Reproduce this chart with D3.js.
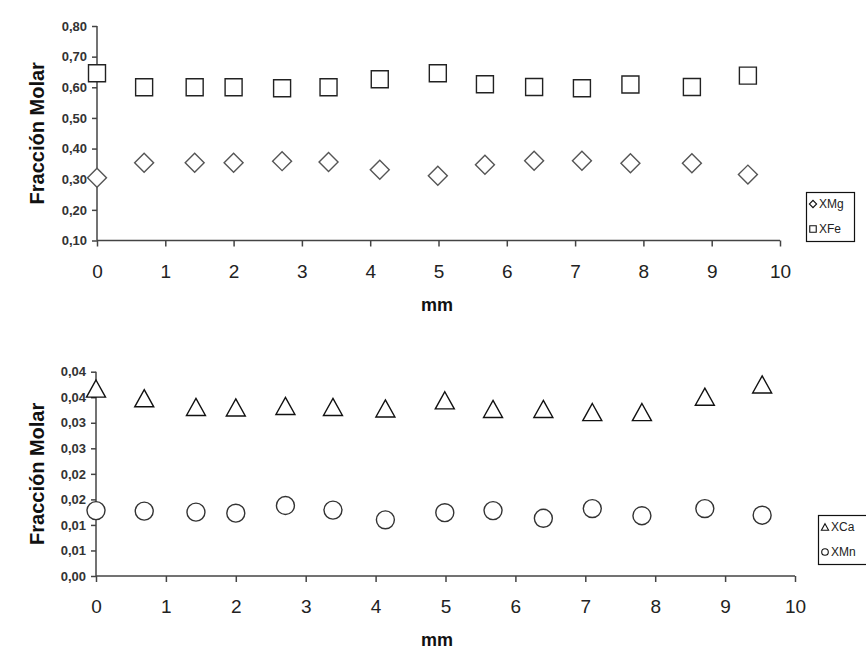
<!DOCTYPE html>
<html>
<head>
<meta charset="utf-8">
<script src="https://cdn.jsdelivr.net/npm/d3@7"></script>
<style>
  body { margin: 0; background: #fff; }
  svg { display: block; font-family: Arial, "Liberation Sans", sans-serif; }
</style>
</head>
<body>
<div id="chart"></div>
<script>
// distance along the sample (mm), shared by both panels
const distances = [0, 0.69, 1.43, 2.0, 2.71, 3.39, 4.14, 4.99, 5.68, 6.40, 7.10, 7.81, 8.71, 9.53];

// top panel
const xMg = [0.305, 0.354, 0.354, 0.354, 0.359, 0.356, 0.331, 0.311, 0.347, 0.360, 0.360, 0.352, 0.352, 0.315];
const xFe = [0.646, 0.600, 0.600, 0.600, 0.597, 0.600, 0.626, 0.646, 0.610, 0.601, 0.597, 0.609, 0.601, 0.638];

// bottom panel
const xCa = [0.0367, 0.0348, 0.0331, 0.0330, 0.0333, 0.0331, 0.0328, 0.0344, 0.0327, 0.0327, 0.0321, 0.0321, 0.0351, 0.0375];
const xMn = [0.0128, 0.0127, 0.0125, 0.0123, 0.0138, 0.0129, 0.0110, 0.0124, 0.0128, 0.0113, 0.0132, 0.0118, 0.0132, 0.0119];

const xTicks = [0, 1, 2, 3, 4, 5, 6, 7, 8, 9, 10];
const topTicks = [0.1, 0.2, 0.3, 0.4, 0.5, 0.6, 0.7, 0.8];
const topTickLabels = ["0,10", "0,20", "0,30", "0,40", "0,50", "0,60", "0,70", "0,80"];
const bottomTicks = [0, 0.005, 0.01, 0.015, 0.02, 0.025, 0.03, 0.035, 0.04];
const bottomTickLabels = ["0,00", "0,01", "0,01", "0,02", "0,02", "0,03", "0,03", "0,04", "0,04"];

const svg = d3.select("#chart")
    .append("svg")
    .attr("width", 866)
    .attr("height", 653);

// triangle whose bounding box is centred on the point (Excel style)
const bboxTriangle = {
    draw(ctx, size) {
        const s = Math.sqrt(size);
        const h = s * 0.9;
        ctx.moveTo(0, -h / 2);
        ctx.lineTo(s / 2, h / 2);
        ctx.lineTo(-s / 2, h / 2);
        ctx.closePath();
    }
};

// type, plot size, legend size, rotation, stroke
const markers = {
    square:   { type: d3.symbolSquare, size: 289, small: 42, rotate: 0,  stroke: "#222" },
    diamond:  { type: d3.symbolSquare, size: 180, small: 26, rotate: 45, stroke: "#555" },
    triangle: { type: bboxTriangle,    size: 361, small: 52, rotate: 0,  stroke: "#111" },
    circle:   { type: d3.symbolCircle, size: 254, small: 34, rotate: 0,  stroke: "#333" }
};

function drawPanel(opts) {
    const x = d3.scaleLinear().domain([0, 10]).range([opts.x0, opts.x1]);
    const y = d3.scaleLinear().domain(opts.yDomain).range([opts.y0, opts.y1]);

    const g = svg.append("g");

    // x axis
    const xAxis = g.append("g")
        .attr("transform", `translate(0,${opts.y0})`)
        .call(d3.axisBottom(x).tickValues(xTicks).tickSize(6).tickFormat(d3.format("d")));
    xAxis.select(".domain").attr("stroke", "#444").attr("stroke-width", 1.5).attr("d", `M${opts.x0},0H${opts.x1}`);
    xAxis.selectAll(".tick line").attr("stroke", "#444").attr("stroke-width", 1.5);
    xAxis.selectAll(".tick text")
        .attr("y", 37)
        .attr("dy", 0)
        .style("font-size", "19px")
        .attr("fill", "#222");

    // y axis
    const yAxis = g.append("g")
        .attr("transform", `translate(${opts.x0},0)`)
        .call(d3.axisLeft(y).tickValues(opts.yTicks).tickSize(5).tickPadding(5)
            .tickFormat((d, i) => opts.yLabels[i]));
    yAxis.select(".domain").attr("stroke", "#444").attr("stroke-width", 1.5).attr("d", `M0,${opts.y0}V${opts.y1}`);
    yAxis.selectAll(".tick line").attr("stroke", "#444").attr("stroke-width", 1.5);
    yAxis.selectAll(".tick text")
        .style("font-size", "13px")
        .style("font-weight", "bold")
        .attr("fill", "#333");

    // axis titles
    g.append("text")
        .attr("transform", `translate(44,${(opts.y0 + opts.y1) / 2}) rotate(-90)`)
        .attr("text-anchor", "middle")
        .style("font-size", "20px")
        .style("font-weight", "bold")
        .attr("fill", "#111")
        .text("Fracción Molar");

    g.append("text")
        .attr("x", 437)
        .attr("y", opts.titleY)
        .attr("text-anchor", "middle")
        .style("font-size", "18px")
        .style("font-weight", "bold")
        .attr("fill", "#111")
        .text("mm");

    // series
    opts.series.forEach(s => {
        const m = markers[s.marker];
        g.selectAll(null)
            .data(s.values)
            .enter()
            .append("path")
            .attr("d", d3.symbol(m.type, m.size)())
            .attr("transform", (v, i) => `translate(${x(distances[i])},${y(v)}) rotate(${m.rotate})`)
            .attr("fill", "#fff")
            .attr("stroke", m.stroke)
            .attr("stroke-width", 1.4);
    });

    // legend
    const lg = g.append("g").attr("transform", `translate(${opts.legend.x},${opts.legend.y})`);
    lg.append("rect")
        .attr("x", 0.5).attr("y", 0.5)
        .attr("width", opts.legend.w).attr("height", 49)
        .attr("fill", "#fff")
        .attr("stroke", "#111")
        .attr("stroke-width", 1.2);
    opts.legend.items.forEach((it, i) => {
        const m = markers[it.marker];
        const cy = 12 + i * 25;
        lg.append("path")
            .attr("d", d3.symbol(m.type, m.small)())
            .attr("transform", `translate(7,${cy}) rotate(${m.rotate})`)
            .attr("fill", "#fff")
            .attr("stroke", "#111")
            .attr("stroke-width", 1.1);
        lg.append("text")
            .attr("x", 13)
            .attr("y", cy + 4)
            .style("font-size", "12px")
            .attr("fill", "#222")
            .text(it.label);
    });
}

drawPanel({
    x0: 97, x1: 780, y0: 240.5, y1: 26,
    yDomain: [0.1, 0.8],
    yTicks: topTicks, yLabels: topTickLabels,
    titleY: 311,
    series: [
        { values: xFe, marker: "square" },
        { values: xMg, marker: "diamond" }
    ],
    legend: { x: 806, y: 192, w: 48, items: [
        { label: "XMg", marker: "diamond" },
        { label: "XFe", marker: "square" }
    ] }
});

drawPanel({
    x0: 96, x1: 795, y0: 576, y1: 371.7,
    yDomain: [0, 0.04],
    yTicks: bottomTicks, yLabels: bottomTickLabels,
    titleY: 646,
    series: [
        { values: xCa, marker: "triangle" },
        { values: xMn, marker: "circle" }
    ],
    legend: { x: 818, y: 515, w: 52, items: [
        { label: "XCa", marker: "triangle" },
        { label: "XMn", marker: "circle" }
    ] }
});
</script>
</body>
</html>
